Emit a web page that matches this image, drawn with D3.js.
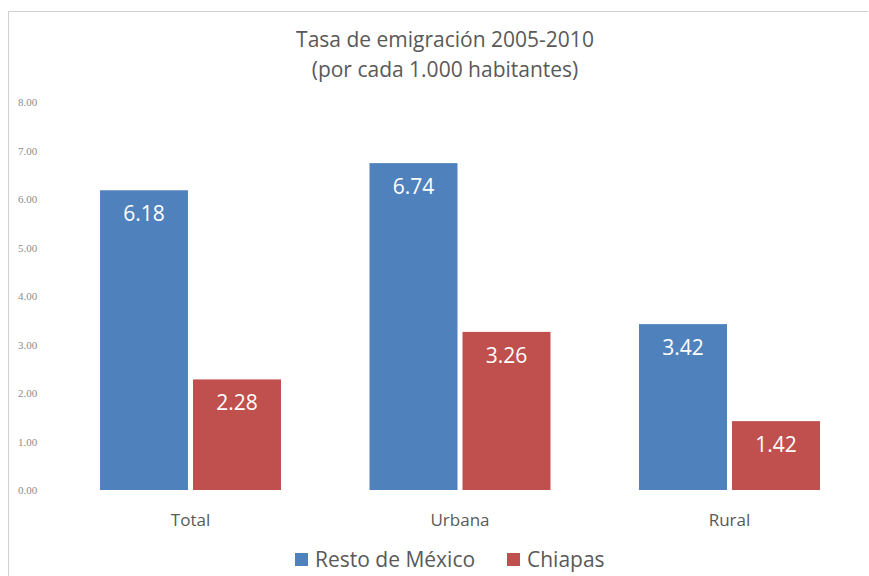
<!DOCTYPE html>
<html>
<head>
<meta charset="utf-8">
<script src="https://cdn.jsdelivr.net/npm/d3@7"></script>
<style>
  body { margin: 0; background: #fff; }
  text { font-family: "Open Sans", sans-serif; }
</style>
</head>
<body>
<div id="chart"></div>
<script>
// Data
var categories = ["Total", "Urbana", "Rural"];
var seriesNames = ["Resto de México", "Chiapas"];
var resto = [6.18, 6.74, 3.42];
var chiapas = [2.28, 3.26, 1.42];
var yTicks = [0, 1, 2, 3, 4, 5, 6, 7, 8];
var colors = ["#4f81bd", "#c0504d"];

var width = 869, height = 576;

var svg = d3.select("#chart")
  .append("svg")
    .attr("width", width)
    .attr("height", height);

// Frame
svg.append("path")
  .attr("d", "M8.5,576 V11.5 H868")
  .attr("fill", "none")
  .attr("stroke", "#d0d0d0")
  .attr("stroke-width", 1);

// Title
svg.append("text")
  .attr("x", 445).attr("y", 47)
  .attr("text-anchor", "middle")
  .attr("font-size", 21)
  .attr("fill", "#595959")
  .text("Tasa de emigración 2005-2010");
svg.append("text")
  .attr("x", 445).attr("y", 77)
  .attr("text-anchor", "middle")
  .attr("font-size", 21)
  .attr("fill", "#595959")
  .text("(por cada 1.000 habitantes)");

// Scales
var x0 = d3.scaleBand()
  .domain(categories)
  .range([55.75, 864.25]);

var x1 = d3.scaleBand()
  .domain([0, 1])
  .range([0, 181])
  .paddingInner(5 / 93);

var y = d3.scaleLinear()
  .domain([0, 8])
  .range([490, 102]);

// Y axis labels
svg.append("g")
  .selectAll("text")
  .data(yTicks)
  .enter()
  .append("text")
    .attr("x", 18)
    .attr("y", function (d) { return y(d) + 4; })
    .style("font-family", "'Liberation Serif', serif")
    .attr("font-size", 11)
    .attr("fill", "#8c8c8c")
    .text(function (d) { return d.toFixed(2); });

// Bars
var groups = svg.append("g")
  .selectAll("g")
  .data(categories)
  .enter()
  .append("g")
    .attr("transform", function (d) { return "translate(" + (x0(d) + (x0.bandwidth() - 181) / 2) + ",0)"; });

groups.selectAll("rect")
  .data(function (d, i) { return [resto[i], chiapas[i]]; })
  .enter()
  .append("rect")
    .attr("x", function (d, j) { return x1(j); })
    .attr("y", function (d) { return y(d); })
    .attr("width", x1.bandwidth())
    .attr("height", function (d) { return y(0) - y(d); })
    .attr("fill", function (d, j) { return colors[j]; });

groups.selectAll("text.val")
  .data(function (d, i) { return [resto[i], chiapas[i]]; })
  .enter()
  .append("text")
    .attr("class", "val")
    .attr("x", function (d, j) { return x1(j) + x1.bandwidth() / 2; })
    .attr("y", function (d) { return y(d) + 31; })
    .attr("text-anchor", "middle")
    .attr("font-size", 21)
    .attr("fill", "#fff")
    .text(function (d) { return d.toFixed(2); });

// Category labels
svg.append("g")
  .selectAll("text")
  .data(categories)
  .enter()
  .append("text")
    .attr("x", function (d) { return x0(d) + x0.bandwidth() / 2; })
    .attr("y", 526)
    .attr("text-anchor", "middle")
    .attr("font-size", 17)
    .attr("fill", "#595959")
    .text(function (d) { return d; });

// Legend
var legendX = [295, 507];
var legend = svg.append("g")
  .selectAll("g")
  .data(seriesNames)
  .enter()
  .append("g")
    .attr("transform", function (d, i) { return "translate(" + legendX[i] + ",553)"; });

legend.append("rect")
  .attr("width", 13).attr("height", 13)
  .attr("fill", function (d, i) { return colors[i]; });

legend.append("text")
  .attr("x", 20).attr("y", 14)
  .attr("font-size", 21)
  .attr("fill", "#595959")
  .text(function (d) { return d; });
</script>
</body>
</html>
